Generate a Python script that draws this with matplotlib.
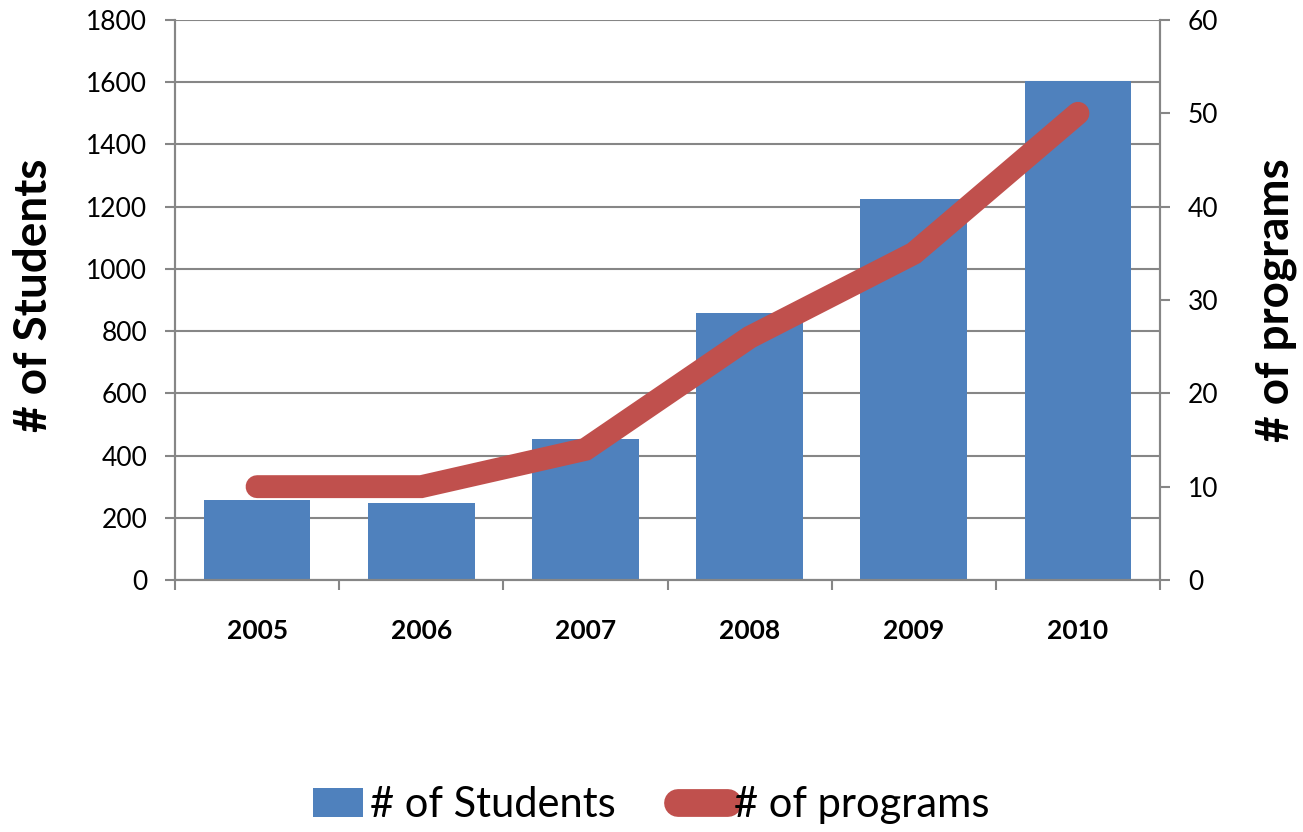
import matplotlib.pyplot as plt
import numpy as np
from matplotlib.lines import Line2D
from matplotlib.patches import Patch

plt.rcParams['font.family'] = ['Lato', 'DejaVu Sans']

years = ['2005', '2006', '2007', '2008', '2009', '2010']
students = [257, 248, 452, 857, 1225, 1605]
programs = [10, 10, 14, 26, 35, 50]

bar_color = '#4F81BD'
line_color = '#C0504D'
grid_color = '#868686'

fig = plt.figure(figsize=(13.03, 8.32), dpi=100)
ax1 = fig.add_axes([0.1343, 0.3029, 0.756, 0.6731])
ax2 = ax1.twinx()

x = np.arange(len(years))
ax1.bar(x, students, width=0.65, color=bar_color, zorder=2)
ax2.plot(x, programs, color=line_color, linewidth=16.5, solid_capstyle='round',
         solid_joinstyle='miter', zorder=3)

ax1.set_xlim(-0.5, len(years) - 0.5)
ax1.set_ylim(0, 1800)
ax1.set_yticks(range(0, 1801, 200))
ax2.set_ylim(0, 60)
ax2.set_yticks(range(0, 61, 10))

ax1.yaxis.grid(True, color=grid_color, linewidth=1.5, zorder=0)
ax1.set_axisbelow(True)

# year labels sit between the category separator ticks
ax1.set_xticks(x)
ax1.set_xticklabels(years, fontsize=19, fontweight='bold')
ax1.tick_params(axis='x', length=0, pad=28)
ax1.set_xticks(np.arange(-0.5, len(years)), minor=True)
ax1.tick_params(axis='x', which='minor', length=7, width=1.5, color=grid_color)

ax1.tick_params(axis='y', labelsize=19, length=7, width=1.5, color=grid_color, pad=13)
ax2.tick_params(axis='y', labelsize=19, length=7, width=1.5, color=grid_color, pad=13)

for ax in (ax1, ax2):
    ax.spines['top'].set_visible(False)
    for side in ('left', 'right', 'bottom'):
        ax.spines[side].set_color(grid_color)
        ax.spines[side].set_linewidth(1.5)

ax1.set_ylabel('# of Students', fontsize=33, fontweight='bold')
ax2.set_ylabel('# of programs', fontsize=33, fontweight='bold')
ax1.yaxis.set_label_coords(0.042, 0.645, transform=fig.transFigure)
ax2.yaxis.set_label_coords(0.963, 0.639, transform=fig.transFigure)

handles = [Patch(facecolor=bar_color, edgecolor='none'),
           Line2D([0], [0], color=line_color, linewidth=20, solid_capstyle='round')]
fig.legend(handles, ['# of Students', '# of programs'], loc='center',
           bbox_to_anchor=(0.5, 0.032), ncol=2, frameon=False, fontsize=30,
           handlelength=1.2, handletextpad=0.15, columnspacing=1.5)

fig.savefig('out.png', dpi=100)
